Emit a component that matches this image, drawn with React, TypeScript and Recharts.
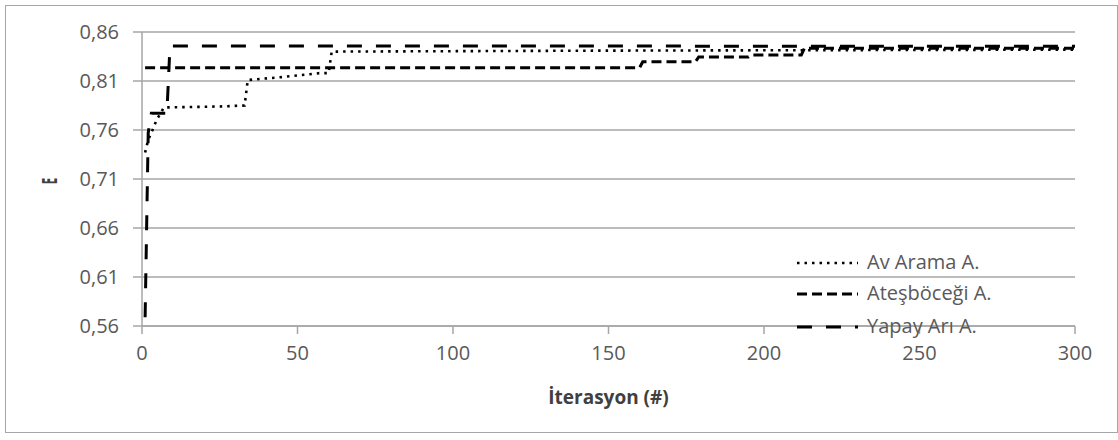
import React from 'react';
import { LineChart, Line, XAxis, YAxis, CartesianGrid } from 'recharts';

// Av Arama A. (dotted)
const avAramaIter = [1, 2, 3, 4, 5, 6, 7, 25, 33, 34, 45, 57, 60, 61, 150, 300];
const avAramaVal = [0.737, 0.75, 0.757, 0.765, 0.772, 0.777, 0.783, 0.784, 0.785, 0.811, 0.814, 0.818, 0.818, 0.84, 0.841, 0.842];

// Ateşböceği A. (medium dash)
const atesIter = [1, 160, 161, 178, 179, 195, 196, 212, 213, 300];
const atesVal = [0.8236, 0.8236, 0.8297, 0.8297, 0.8345, 0.8345, 0.8365, 0.8365, 0.8435, 0.8435];

// Yapay Arı A. (long dash)
const yapayIter = [1, 2, 3, 8, 9, 300];
const yapayVal = [0.569, 0.757, 0.777, 0.777, 0.8457, 0.8455];

const xTicks = [0, 50, 100, 150, 200, 250, 300];
const yTicks = [0.56, 0.61, 0.66, 0.71, 0.76, 0.81, 0.86];

const seriesNames = ['Av Arama A.', 'Ateşböceği A.', 'Yapay Arı A.'];

const zip = (xs: number[], ys: number[]) => xs.map((x, i) => ({ x, y: ys[i] }));
const avAramaData = zip(avAramaIter, avAramaVal);
const atesData = zip(atesIter, atesVal);
const yapayData = zip(yapayIter, yapayVal);

const FONT = '"Open Sans", sans-serif';
const GRID = '#a6a6a6';
const TEXT = '#595959';

const styles = [
  { dash: '2.5 5', width: 2.6 },
  { dash: '10 5', width: 3 },
  { dash: '15 14', width: 3 },
];

const legendRowsY = [263, 294, 327];

const LegendBox = () => (
  <div style={{ position: 'absolute', left: 797, top: 0, width: 300, height: 0 }}>
    {seriesNames.map((name, i) => (
      <div
        key={name}
        style={{
          position: 'absolute',
          left: 0,
          top: legendRowsY[i],
          height: 0,
          display: 'flex',
          alignItems: 'center',
        }}
      >
        <svg width={62} height={8} style={{ overflow: 'visible', flex: 'none' }}>
          <line x1={0} y1={4} x2={61} y2={4} stroke="#000" strokeWidth={styles[i].width} strokeDasharray={styles[i].dash} />
        </svg>
        <span style={{ marginLeft: 8, fontFamily: FONT, fontSize: 20, color: TEXT, whiteSpace: 'nowrap', lineHeight: '20px', marginTop: -2 }}>
          {name}
        </span>
      </div>
    ))}
  </div>
);

const YLabel = () => (
  <text
    transform="translate(49,181) rotate(-90) scale(0.55,1)"
    textAnchor="middle"
    dominantBaseline="central"
    fontFamily={FONT}
    fontWeight="bold"
    fontSize={21}
    fill="#404040"
  >
    E
  </text>
);

const XLabel = (props: any) => {
  const vb = props.viewBox || {};
  return (
    <text
      x={vb.x + vb.width / 2}
      y={397}
      textAnchor="middle"
      dominantBaseline="central"
      fontFamily={FONT}
      fontWeight="bold"
      fontSize={19}
      fill="#404040"
    >
      İterasyon (#)
    </text>
  );
};

export default function App() {
  return (
    <div style={{ position: 'absolute', left: 0, top: 0, width: 1118, height: 440, background: '#fff' }}>
      <div
        style={{
          position: 'absolute',
          left: 5,
          top: 5,
          width: 1113,
          height: 428,
          border: '1.5px solid #a6a6a6',
          boxSizing: 'border-box',
        }}
      />
      <div style={{ position: 'absolute', left: 0, top: 0 }}>
        <LineChart width={1118} height={440} margin={{ top: 32, right: 43, left: 0, bottom: 0 }}>
          <CartesianGrid horizontal vertical={false} stroke={GRID} strokeWidth={1.5} />
          <XAxis
            type="number"
            dataKey="x"
            domain={[0, 300]}
            ticks={xTicks}
            height={114}
            stroke={GRID}
            strokeWidth={1.5}
            tickSize={8}
            tickMargin={12}
            tick={{ fontFamily: FONT, fontSize: 20, fill: TEXT }}
            tickLine={{ stroke: GRID, strokeWidth: 1.5 }}
            label={<XLabel />}
          />
          <YAxis
            type="number"
            domain={[0.56, 0.86]}
            ticks={yTicks}
            width={142}
            stroke={GRID}
            strokeWidth={1.5}
            tickSize={9}
            tickMargin={14}
            tickFormatter={(v: number) => v.toFixed(2).replace('.', ',')}
            tick={{ fontFamily: FONT, fontSize: 20, fill: TEXT }}
            tickLine={{ stroke: GRID, strokeWidth: 1.5 }}
            label={<YLabel />}
          />
          <Line data={avAramaData} dataKey="y" name={seriesNames[0]} type="linear" stroke="#000" strokeWidth={styles[0].width} strokeDasharray={styles[0].dash} dot={false} activeDot={false} isAnimationActive={false} />
          <Line data={atesData} dataKey="y" name={seriesNames[1]} type="linear" stroke="#000" strokeWidth={styles[1].width} strokeDasharray={styles[1].dash} dot={false} activeDot={false} isAnimationActive={false} />
          <Line data={yapayData} dataKey="y" name={seriesNames[2]} type="linear" stroke="#000" strokeWidth={styles[2].width} strokeDasharray={styles[2].dash} dot={false} activeDot={false} isAnimationActive={false} />
        </LineChart>
      </div>
      <LegendBox />
    </div>
  );
}
